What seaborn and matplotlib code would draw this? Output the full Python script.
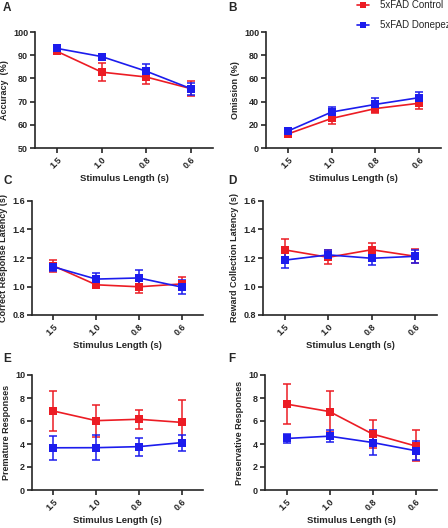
import matplotlib
matplotlib.use("Agg")
import matplotlib.pyplot as plt
from matplotlib.lines import Line2D
import seaborn as sns
import pandas as pd

# stimulus lengths (categories on x)
lengths = ["1.5", "1.0", "0.8", "0.6"]
groups = ["5xFAD Control", "5xFAD Donepezil"]

# A: accuracy (%)
acc_ctrl = [91.6, 82.7, 80.6, 75.6]
acc_ctrl_err = [1.0, 4.0, 3.2, 3.3]
acc_don = [92.9, 89.4, 83.1, 75.6]
acc_don_err = [1.0, 0.8, 2.9, 2.6]

# B: omission (%)
om_ctrl = [12.1, 25.5, 34.0, 38.6]
om_ctrl_err = [2.0, 4.5, 3.6, 4.6]
om_don = [14.6, 31.0, 37.6, 43.4]
om_don_err = [2.2, 4.3, 5.3, 5.0]

# C: correct response latency (s)
crl_ctrl = [1.145, 1.012, 0.998, 1.018]
crl_ctrl_err = [0.042, 0.015, 0.045, 0.046]
crl_don = [1.138, 1.052, 1.060, 0.996]
crl_don_err = [0.030, 0.045, 0.058, 0.048]

# D: reward collection latency (s)
rcl_ctrl = [1.257, 1.205, 1.258, 1.212]
rcl_ctrl_err = [0.079, 0.050, 0.050, 0.048]
rcl_don = [1.185, 1.222, 1.198, 1.212]
rcl_don_err = [0.053, 0.034, 0.047, 0.045]

# E: premature responses
pre_ctrl = [6.87, 6.03, 6.15, 5.88]
pre_ctrl_err = [1.77, 1.40, 0.82, 1.98]
pre_don = [3.67, 3.68, 3.77, 4.12]
pre_don_err = [1.02, 1.08, 0.78, 0.70]

# F: preservative responses
per_ctrl = [7.47, 6.82, 4.87, 3.83]
per_ctrl_err = [1.73, 1.75, 1.20, 1.35]
per_don = [4.48, 4.68, 4.13, 3.42]
per_don_err = [0.38, 0.50, 1.10, 0.85]

red = "#ec1c24"
blue = "#1c1ced"
palette = {groups[0]: red, groups[1]: blue}

sns.set_style("ticks")
plt.rcParams["font.family"] = ["Liberation Sans", "DejaVu Sans"]

W, H = 448, 528
fig = plt.figure(figsize=(W / 100, H / 100), dpi=100)


def add_ax(left, top, right, bottom):
    return fig.add_axes([left / W, 1 - bottom / H, (right - left) / W, (bottom - top) / H])


# letter, axes box (px), letter pos (px), data, y label, y range, y ticks, tick format
panels = [
    ("A", (35, 32, 213, 148), (3, 8), acc_ctrl, acc_ctrl_err, acc_don, acc_don_err,
     "Accuracy  (%)", (50, 100), [50, 60, 70, 80, 90, 100], "{:.0f}"),
    ("B", (266, 32, 441, 148), (228, 8), om_ctrl, om_ctrl_err, om_don, om_don_err,
     "Omission (%)", (0, 100), [0, 20, 40, 60, 80, 100], "{:.0f}"),
    ("C", (32, 201, 203, 315), (3, 181), crl_ctrl, crl_ctrl_err, crl_don, crl_don_err,
     "Correct Response Latency (s)", (0.8, 1.6), [0.8, 1.0, 1.2, 1.4, 1.6], "{:.1f}"),
    ("D", (263, 201, 437, 315), (228, 181), rcl_ctrl, rcl_ctrl_err, rcl_don, rcl_don_err,
     "Reward Collection Latency (s)", (0.8, 1.6), [0.8, 1.0, 1.2, 1.4, 1.6], "{:.1f}"),
    ("E", (32, 375, 203, 490), (3, 359), pre_ctrl, pre_ctrl_err, pre_don, pre_don_err,
     "Premature Responses", (0, 10), [0, 2, 4, 6, 8, 10], "{:.0f}"),
    ("F", (265, 375, 437, 490), (228, 359), per_ctrl, per_ctrl_err, per_don, per_don_err,
     "Preservative Responses", (0, 10), [0, 2, 4, 6, 8, 10], "{:.0f}"),
]

for letter, box, lpos, ctrl, ctrl_err, don, don_err, ylabel, ylim, yticks, fmt in panels:
    ax = add_ax(*box)
    df = pd.DataFrame({
        "pos": list(range(len(lengths))) * 2,
        "value": ctrl + don,
        "err": ctrl_err + don_err,
        "group": [groups[0]] * len(lengths) + [groups[1]] * len(lengths),
    })
    for g in groups:
        sub = df[df["group"] == g]
        ax.errorbar(sub["pos"], sub["value"], yerr=sub["err"], fmt="none",
                    ecolor=palette[g], elinewidth=1.1, capsize=3, capthick=1.1, zorder=2)
    sns.lineplot(data=df, x="pos", y="value", hue="group", palette=palette,
                 marker="s", markersize=6, markeredgewidth=0, linewidth=1.2,
                 errorbar=None, legend=False, ax=ax, zorder=3)
    ax.set_xlim(-0.5, 3.5)
    ax.set_ylim(*ylim)
    ax.set_xticks(range(len(lengths)))
    ax.set_xticklabels(lengths, rotation=45, ha="right", va="top",
                       rotation_mode="anchor", fontsize=6.5, fontweight="bold")
    ax.set_yticks(yticks)
    ax.set_yticklabels([fmt.format(t) for t in yticks], fontsize=6.5, fontweight="bold")
    ax.set_xlabel("Stimulus Length (s)", fontsize=6.8, fontweight="bold", labelpad=3)
    ax.set_ylabel(ylabel, fontsize=6.5, fontweight="bold", labelpad=3)
    ax.tick_params(length=3.5, width=1.2, pad=1.5)
    for s in ["left", "bottom"]:
        ax.spines[s].set_linewidth(1.2)
    sns.despine(ax=ax)
    fig.text(lpos[0] / W, 1 - lpos[1] / H, letter, fontsize=8.5, fontweight="bold",
             va="center", ha="left")

handles = [Line2D([], [], color=palette[g], marker="s", markersize=5, linewidth=1.2,
                  markeredgewidth=0) for g in groups]
fig.legend(handles, groups, loc="upper left", bbox_to_anchor=(357 / W, 1.0),
           frameon=False, fontsize=7, handlelength=1.2, handletextpad=1.1,
           labelspacing=1.0, borderpad=0.05, borderaxespad=0)

fig.savefig("out.png", dpi=100)
